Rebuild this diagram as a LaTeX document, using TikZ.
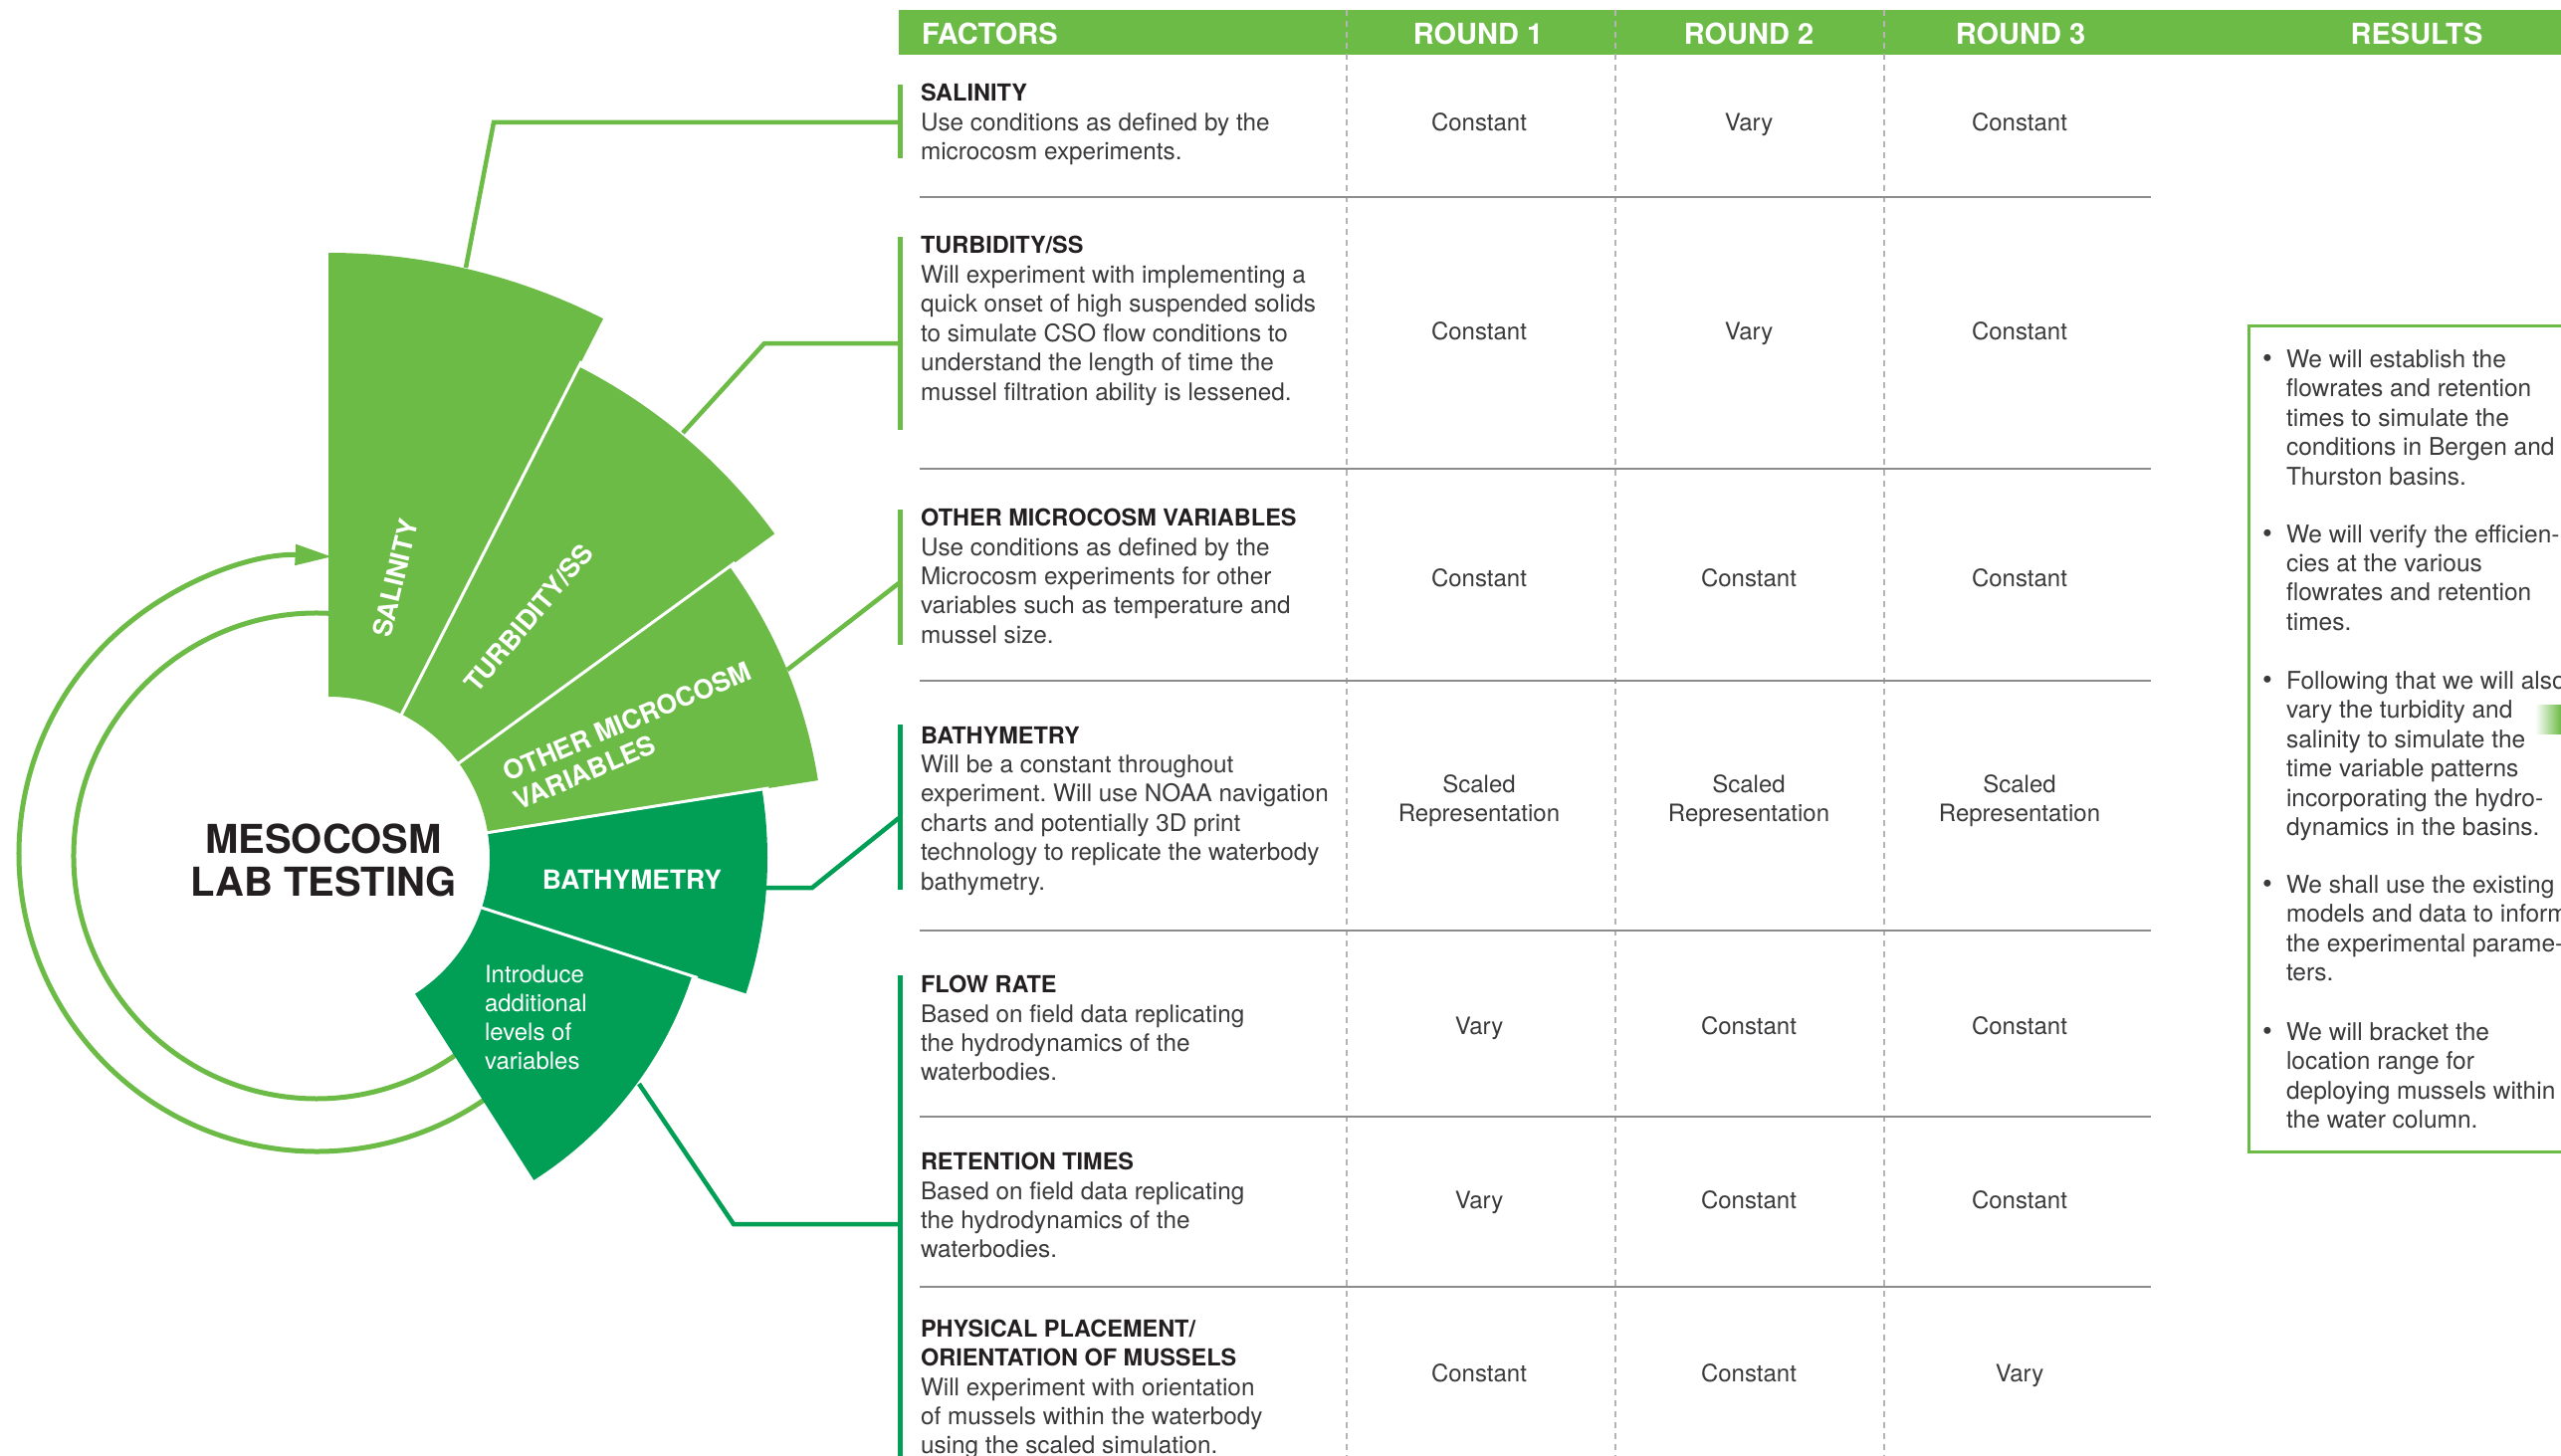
\documentclass[tikz,border=0pt]{standalone}
\usepackage{fontspec}
\setmainfont{TeX Gyre Heros}
\usetikzlibrary{arrows.meta}
\definecolor{lg}{HTML}{6CBB46}
\definecolor{dg}{HTML}{009F55}
\definecolor{ink}{HTML}{231F20}
\definecolor{bodyc}{HTML}{3A3A3C}
\definecolor{sepc}{HTML}{8C8C8C}
\definecolor{dashc}{HTML}{B4B4B4}
\frenchspacing
\newcommand{\txtlines}[6]{%
  \foreach \ln [count=\k from 0] in {#6} {
    \node[#4, anchor=base west] (#1-\k) at (#2, {-(#3) - #5*\k}) {\ln};
  }%
}
\begin{document}
\begin{tikzpicture}[x=1pt,y=1pt,
  body/.style={font=\fontsize{24.3}{29}\selectfont, text=bodyc, inner sep=0pt, outer sep=0pt},
  res/.style={font=\fontsize{24.5}{29}\selectfont, text=bodyc, inner sep=0pt, outer sep=0pt},
  blt/.style={font=\fontsize{28}{29}\selectfont, text=bodyc, inner sep=0pt, outer sep=0pt},
  val/.style={font=\fontsize{24}{29}\selectfont, text=bodyc, inner sep=0pt, outer sep=0pt, anchor=base},
  ttl/.style={font=\bfseries\fontsize{23.5}{29}\selectfont, text=ink, inner sep=0pt, outer sep=0pt},
  hdr/.style={font=\bfseries\fontsize{29}{30}\selectfont, text=white, inner sep=0pt, outer sep=0pt},
  sect/.style={font=\bfseries\fontsize{26.5}{30}\selectfont, text=white, inner sep=0pt, outer sep=0pt},
  intro/.style={font=\fontsize{24}{29}\selectfont, text=white, inner sep=0pt, outer sep=0pt},
  big/.style={font=\bfseries\fontsize{40}{44}\selectfont, text=ink, inner sep=0pt, outer sep=0pt, anchor=base},
  sepline/.style={draw=sepc, line width=2.5pt},
  dline/.style={draw=dashc, line width=1.5pt, dash pattern=on 6pt off 5pt},
  bar/.style={line width=5pt},
  conl/.style={line width=4.5pt},
  ring/.style={draw=lg, line width=5pt}
]
\useasboundingbox (0,0) rectangle (2573,-1463);
\fill[white] (0,0) rectangle (2573,-1463);

% ---------- rings ----------
\begin{scope}[shift={(318,-858)}]
  \draw[ring, -{Triangle[length=37pt,width=20pt]}] (-50:299) arc[start angle=-50, end angle=-273, radius=299];
\end{scope}
\begin{scope}[shift={(318,-860)}]
  \draw[ring] (85:244) arc[start angle=85, end angle=310, radius=244];
\end{scope}

% ---------- left fan diagram ----------
\begin{scope}[shift={(330,-862)}]
  % sectors
  \fill[lg] (63:162) arc[start angle=63, end angle=90, radius=162] -- (90:608) arc[start angle=90, end angle=63, radius=608] -- cycle;
  \fill[lg] (36:162) arc[start angle=36, end angle=63, radius=162] -- (63:554) arc[start angle=63, end angle=36, radius=554] -- cycle;
  \fill[lg] (9:162) arc[start angle=9, end angle=36, radius=162] -- (36:498) arc[start angle=36, end angle=9, radius=498] -- cycle;
  \fill[dg] (-18:162) arc[start angle=-18, end angle=9, radius=162] -- (9:441) arc[start angle=9, end angle=-18, radius=441] -- cycle;
  \fill[dg] (-57.5:162) arc[start angle=-57.5, end angle=-18, radius=162] -- (-18:384) arc[start angle=-18, end angle=-57.5, radius=384] -- cycle;
  % white separators
  \draw[white, line width=3pt] (63:155) -- (63:560);
  \draw[white, line width=3pt] (36:155) -- (36:505);
  \draw[white, line width=3pt] (9:155) -- (9:448);
  \draw[white, line width=3pt] (-18:155) -- (-18:390);
  % sector labels
  \node[sect, rotate=76.5] (tsal) at (67,281) {SALINITY};
  \node[sect, rotate=50] (ttur) at (201,241) {TURBIDITY/SS};
  \node[sect, rotate=23, anchor=west] (toth1) at (177,85) {OTHER MICROCOSM};
  \node[sect, rotate=23, anchor=west] (toth2) at (187.6,56) {VARIABLES};
\end{scope}
\node[sect] (tbat) at (635,-884) {BATHYMETRY};
\txtlines{intro}{487}{987.5}{intro}{29}{{Introduce},{additional},{levels of},{variables}}
\node[big] (m1) at (325,-857) {MESOCOSM};
\node[big] (m2) at (325,-900) {LAB TESTING};

% ---------- header ----------
\fill[lg] (903,-10) rectangle (2573,-55);
\node[hdr, anchor=base west] (hf) at (926,-44.5) {FACTORS};
\node[hdr, anchor=base] (h1) at (1485,-44.5) {ROUND 1};
\node[hdr, anchor=base] (h2) at (1757,-44.5) {ROUND 2};
\node[hdr, anchor=base] (h3) at (2030,-44.5) {ROUND 3};
\node[hdr, anchor=base] (h4) at (2428,-44.5) {RESULTS};

% dashed column lines
\draw[dline] (1353,-10) -- (1353,-1463);
\draw[dline] (1623,-10) -- (1623,-1463);
\draw[dline] (1893,-10) -- (1893,-1463);

% separators
\foreach \yy in {198,471,684,935,1122,1293} {
  \draw[sepline] (924,-\yy) -- (2161,-\yy);
}

% left bars
\draw[bar, lg] (904,-85) -- (904,-159);
\draw[bar, lg] (904,-238) -- (904,-432);
\draw[bar, lg] (904,-512) -- (904,-648);
\draw[bar, dg] (904,-728) -- (904,-894);
\draw[bar, dg] (904,-980) -- (904,-1463);

% connectors
\coordinate (c1a) at (468,-269); \coordinate (c1b) at (496,-123); \coordinate (c1c) at (903,-123);
\coordinate (c2a) at (686,-435); \coordinate (c2b) at (768,-345); \coordinate (c2c) at (903,-345);
\coordinate (c3a) at (791,-673); \coordinate (c3c) at (903,-586);
\coordinate (c4a) at (768,-892); \coordinate (c4b) at (816,-892); \coordinate (c4c) at (903,-822);
\coordinate (c5a) at (642,-1089); \coordinate (c5b) at (737,-1230); \coordinate (c5c) at (903,-1230);
\draw[conl, lg] (c1a) -- (c1b) -- (c1c);
\draw[conl, lg] (c2a) -- (c2b) -- (c2c);
\draw[conl, lg] (c3a) -- (c3c);
\draw[conl, dg] (c4a) -- (c4b) -- (c4c);
\draw[conl, dg] (c5a) -- (c5b) -- (c5c);

% ---------- table rows ----------
\node[ttl, anchor=base west] (r1t) at (925,-102) {SALINITY};
\txtlines{r1}{925}{131.5}{body}{29.4}{{Use conditions as defined by the},{microcosm experiments.}}

\node[ttl, anchor=base west] (r2t) at (925,-255) {TURBIDITY/SS};
\txtlines{r2}{925}{284.5}{body}{29.4}{{Will experiment with implementing a},{quick onset of high suspended solids},{to simulate CSO flow conditions to},{understand the length of time the},{mussel filtration ability is lessened.}}

\node[ttl, anchor=base west] (r3t) at (925,-528.5) {OTHER MICROCOSM VARIABLES};
\txtlines{r3}{925}{558}{body}{29.4}{{Use conditions as defined by the},{Microcosm experiments for other},{variables such as temperature and},{mussel size.}}

\node[ttl, anchor=base west] (r4t) at (925,-747) {BATHYMETRY};
\txtlines{r4}{925}{776.5}{body}{29.4}{{Will be a constant throughout},{experiment. Will use NOAA navigation},{charts and potentially 3D print},{technology to replicate the waterbody},{bathymetry.}}

\node[ttl, anchor=base west] (r5t) at (925,-997.5) {FLOW RATE};
\txtlines{r5}{925}{1027}{body}{29.4}{{Based on field data replicating},{the hydrodynamics of the},{waterbodies.}}

\node[ttl, anchor=base west] (r6t) at (925,-1175.5) {RETENTION TIMES};
\txtlines{r6}{925}{1205}{body}{29.4}{{Based on field data replicating},{the hydrodynamics of the},{waterbodies.}}

\node[ttl, anchor=base west] (r7t) at (925,-1343) {PHYSICAL PLACEMENT/};
\node[ttl, anchor=base west] (r7u) at (925,-1372.5) {ORIENTATION OF MUSSELS};
\txtlines{r7}{925}{1402}{body}{29.4}{{Will experiment with orientation},{of mussels within the waterbody},{using the scaled simulation.}}

% values
\node[val] (v11) at (1486,-131.5) {Constant};
\node[val] (v12) at (1757,-131.5) {Vary};
\node[val] (v13) at (2029,-131.5) {Constant};
\node[val] (v21) at (1486,-341.5) {Constant};
\node[val] (v22) at (1757,-341.5) {Vary};
\node[val] (v23) at (2029,-341.5) {Constant};
\node[val] (v31) at (1486,-589.5) {Constant};
\node[val] (v32) at (1757,-589.5) {Constant};
\node[val] (v33) at (2029,-589.5) {Constant};
\foreach \cx/\nm in {1486/a,1757/b,2029/c} {
  \node[val] (v4\nm1) at (\cx,-796.5) {Scaled};
  \node[val] (v4\nm2) at (\cx,-825.5) {Representation};
}
\node[val] (v51) at (1486,-1039) {Vary};
\node[val] (v52) at (1757,-1039) {Constant};
\node[val] (v53) at (2029,-1039) {Constant};
\node[val] (v61) at (1486,-1214.5) {Vary};
\node[val] (v62) at (1757,-1214.5) {Constant};
\node[val] (v63) at (2029,-1214.5) {Constant};
\node[val] (v71) at (1486,-1388.5) {Constant};
\node[val] (v72) at (1757,-1388.5) {Constant};
\node[val] (v73) at (2029,-1388.5) {Vary};

% ---------- results box ----------
\draw[lg, line width=3pt] (2259,-328) rectangle (2640,-1157);
\shade[left color=white, right color=lg] (2547,-708) rectangle (2573,-737);
\foreach \by/\nm in {369.5/b1,545/b2,692.5/b3,897.5/b4,1045.5/b5} {
  \node[blt, anchor=base west] (\nm) at (2273,-\by) {\textbullet};
}
\txtlines{s1}{2297}{369.5}{res}{29.4}{{We will establish the},{flowrates and retention},{times to simulate the},{conditions in Bergen and},{Thurston basins.}}
\txtlines{s2}{2297}{545}{res}{29.4}{{We will verify the efficien-},{cies at the various},{flowrates and retention},{times.}}
\txtlines{s3}{2297}{692.5}{res}{29.4}{{Following that we will also},{vary the turbidity and},{salinity to simulate the},{time variable patterns},{incorporating the hydro-},{dynamics in the basins.}}
\txtlines{s4}{2297}{897.5}{res}{29.4}{{We shall use the existing},{models and data to inform},{the experimental parame-},{ters.}}
\txtlines{s5}{2297}{1045.5}{res}{29.4}{{We will bracket the},{location range for},{deploying mussels within},{the water column.}}
\end{tikzpicture}
\end{document}
